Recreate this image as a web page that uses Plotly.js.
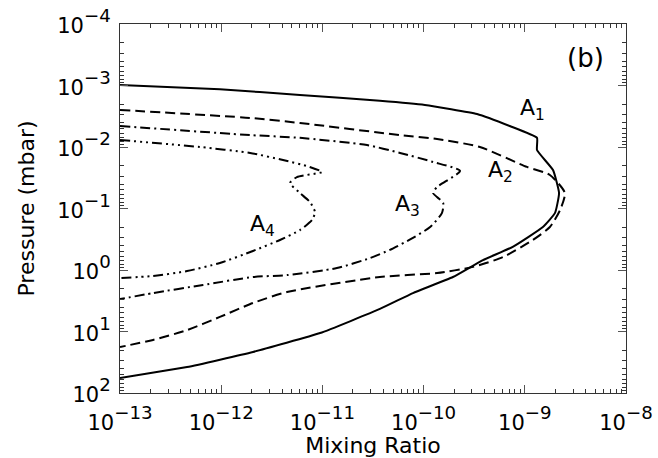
<!DOCTYPE html>
<html>
<head>
<meta charset="utf-8">
<script src="https://cdn.plot.ly/plotly-3.0.1.min.js"></script>
<style>html,body{margin:0;padding:0;background:#fff;}#chart{width:658px;height:458px;}</style>
</head>
<body>
<div id="chart"></div>
<script>
// Mixing ratio (x) and pressure in mbar (y) for each profile
const a1Mix  = [1e-13, 9.7e-13, 6.0e-12, 3.7e-11, 1.03e-10, 3.37e-10, 7.1e-10, 1.32e-9, 1.32e-9, 1.90e-9, 2.18e-9, 1.99e-9, 1.51e-9, 7.6e-10, 3.86e-10, 1.95e-10, 7.85e-11, 3.7e-11, 9.5e-12, 2.06e-12, 4.6e-13, 1e-13];
const a1Pres = [9.8e-4, 1.15e-3, 1.43e-3, 1.77e-3, 2.07e-3, 2.9e-3, 4.56e-3, 7.1e-3, 1.12e-2, 2.37e-2, 5.6e-2, 0.118, 0.20, 0.42, 0.69, 1.30, 2.37, 4.3, 10.6, 21.5, 37.8, 57];

const a2Mix  = [1e-13, 1.93e-12, 6.0e-12, 5.85e-11, 1.36e-10, 3.6e-10, 1.05e-9, 1.77e-9, 2.49e-9, 2.23e-9, 1.77e-9, 1.2e-9, 6.1e-10, 3.08e-10, 1.36e-10, 3.7e-11, 4.47e-12, 2.06e-12, 9.7e-13, 4.6e-13, 2.12e-13, 1e-13];
const a2Pres = [2.5e-3, 3.37e-3, 4.07e-3, 6.4e-3, 7.4e-3, 1.0e-2, 2.11e-2, 2.85e-2, 5.6e-2, 0.106, 0.20, 0.325, 0.615, 0.89, 1.12, 1.30, 2.28, 3.44, 5.8, 9.5, 13.7, 17.9];

const a3Mix  = [1e-13, 1.93e-12, 6.0e-12, 2.76e-11, 5.85e-11, 1.24e-10, 2.29e-10, 1.36e-10, 1.24e-10, 1.56e-10, 1.52e-10, 1.16e-10, 7.85e-11, 4.65e-11, 2.95e-11, 1.39e-11, 4.47e-12, 2.06e-12, 6.6e-13, 2.12e-13, 1e-13];
const a3Pres = [4.56e-3, 6.4e-3, 7.1e-3, 9.3e-3, 1.25e-2, 1.75e-2, 2.45e-2, 4.47e-2, 5.6e-2, 8.1e-2, 0.118, 0.20, 0.30, 0.47, 0.64, 0.93, 1.21, 1.30, 1.75, 2.37, 2.97];

const a4Mix  = [1e-13, 6.2e-13, 1.93e-12, 4.08e-12, 7.5e-12, 9.9e-12, 5.6e-12, 4.79e-12, 6.0e-12, 7.5e-12, 8.45e-12, 7.9e-12, 6.0e-12, 3.81e-12, 2.06e-12, 9.7e-13, 4.6e-13, 2.12e-13, 1e-13];
const a4Pres = [7.7e-3, 1.0e-2, 1.25e-2, 1.63e-2, 2.11e-2, 2.55e-2, 3.08e-2, 3.85e-2, 5.6e-2, 7.8e-2, 0.114, 0.154, 0.224, 0.325, 0.49, 0.77, 1.04, 1.25, 1.35];

// tick labels (exponents of ten)
const xTickExp = [-13, -12, -11, -10, -9, -8];
const yTickExp = [-4, -3, -2, -1, 0, 1, 2];

const seriesNames = ['A', 'A', 'A', 'A'];
const seriesSubs = ['1', '2', '3', '4'];
const panelLabel = '(b)';
const xTitle = 'Mixing Ratio';
const yTitle = 'Pressure (mbar)';

const FONT = 'DejaVu Sans, sans-serif';
function tr(x, y, dash, sm) {
  return {x: x, y: y, type: 'scatter', mode: 'lines',
    line: {color: '#000', width: 2, dash: dash, shape: 'spline', smoothing: sm},
    hoverinfo: 'skip', showlegend: false};
}
const data = [
  tr(a1Mix, a1Pres, 'solid', 0.4),
  tr(a2Mix, a2Pres, '10px,5px', 0.6),
  tr(a3Mix, a3Pres, '10px,4px,2px,4px', 0.6),
  tr(a4Mix, a4Pres, '10px,4px,2px,4px,2px,4px,2px,4px', 0.6)
];

function expLabel(e) {
  const s = e < 0 ? '\u2212' + Math.abs(e) : String(e);
  return '<span style="font-size:21px">10</span><sup>' + s + '</sup>';
}

const axisCommon = {
  type: 'log', showgrid: false, zeroline: false,
  showline: true, linecolor: '#333', linewidth: 1, mirror: 'ticks',
  ticks: 'inside', ticklen: 8, tickwidth: 1, tickcolor: '#555',
  tickmode: 'array',
  tickfont: {family: FONT, size: 26, color: '#000'},
  minor: {ticks: 'inside', ticklen: 4, tickwidth: 1, tickcolor: '#333', dtick: 'D1', showgrid: false}
};
const layout = {
  width: 658, height: 458,
  margin: {l: 120, r: 32, t: 24, b: 65},
  paper_bgcolor: '#fff', plot_bgcolor: '#fff',
  font: {family: FONT, color: '#000'},
  xaxis: Object.assign({}, axisCommon, {
    range: [-13, -8],
    tickvals: xTickExp.map(e => Math.pow(10, e)),
    ticktext: xTickExp.map(expLabel),
    ticklabelstandoff: 5,
    title: {text: xTitle, font: {family: FONT, size: 22, color: '#000'}, standoff: 8}
  }),
  yaxis: Object.assign({}, axisCommon, {
    range: [2, -4], autorange: false,
    tickvals: yTickExp.map(e => Math.pow(10, e)),
    ticktext: yTickExp.map(expLabel),
    ticklabelstandoff: 3,
    title: {text: yTitle, font: {family: FONT, size: 22, color: '#000'}, standoff: 16}
  }),
  annotations: [
    {text: panelLabel, xref: 'paper', yref: 'paper', x: 0.919, y: 0.908, xanchor: 'center', yanchor: 'middle', showarrow: false, font: {family: FONT, size: 26, color: '#000'}}
  ].concat([[0.816, 0.767], [0.751, 0.599], [0.569, 0.509], [0.281, 0.455]].map((p, i) => ({
    text: seriesNames[i] + '<sub>' + seriesSubs[i] + '</sub>', xref: 'paper', yref: 'paper', x: p[0], y: p[1],
    xanchor: 'center', yanchor: 'middle',
    showarrow: false, font: {family: FONT, size: 22, color: '#000'}
  })))
};
Plotly.newPlot('chart', data, layout, {displayModeBar: false, staticPlot: true});
</script>
</body>
</html>
